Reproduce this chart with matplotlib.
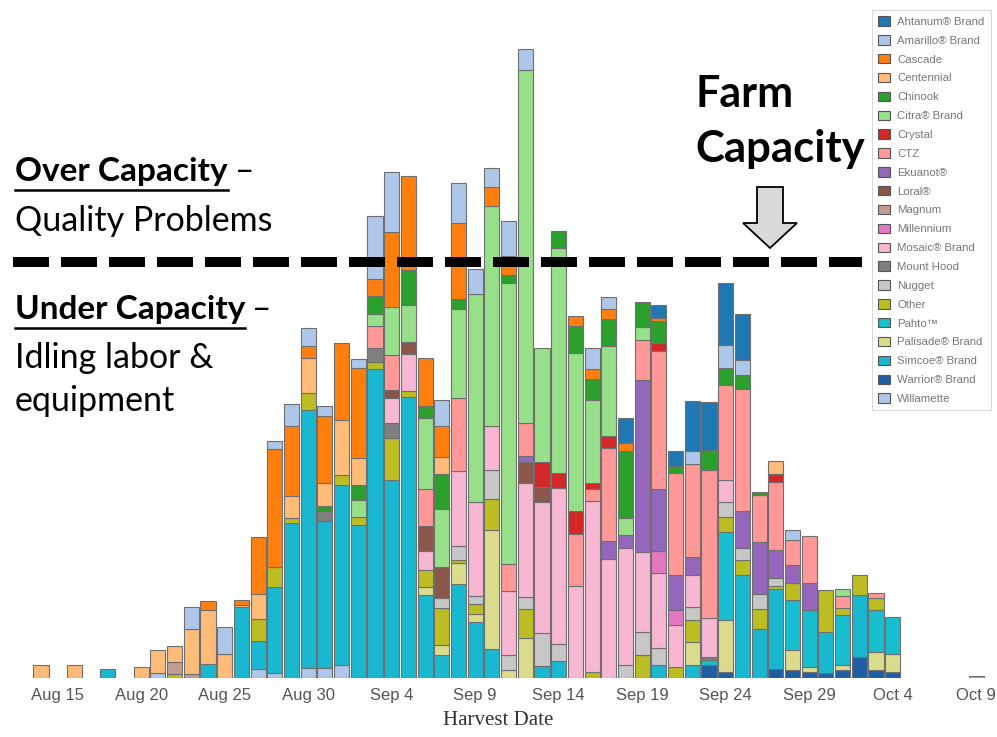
import matplotlib
matplotlib.use("Agg")
import matplotlib.pyplot as plt
from matplotlib.patches import Patch, FancyArrow
import numpy as np
import pandas as pd

# harvest days that have a bar
dates = ["Aug 14", "Aug 16", "Aug 18", "Aug 20", "Aug 21", "Aug 22", "Aug 23", "Aug 24", "Aug 25", "Aug 26",
         "Aug 27", "Aug 28", "Aug 29", "Aug 30", "Aug 31", "Sep 1", "Sep 2", "Sep 3", "Sep 4", "Sep 5",
         "Sep 6", "Sep 7", "Sep 8", "Sep 9", "Sep 10", "Sep 11", "Sep 12", "Sep 13", "Sep 14", "Sep 15",
         "Sep 16", "Sep 17", "Sep 18", "Sep 19", "Sep 20", "Sep 21", "Sep 22", "Sep 23", "Sep 24", "Sep 25",
         "Sep 26", "Sep 27", "Sep 28", "Sep 29", "Sep 30", "Oct 1", "Oct 2", "Oct 3", "Oct 4", "Oct 9"]

# volume per variety (bottom of stack first)
willamette = [0, 0, 0, 0, 5, 0, 0, 0, 0, 0,   9, 5, 0, 10, 10, 13, 0, 0, 0, 0,
              0, 0, 0, 0, 0, 0, 0, 0, 0, 0,   0, 0, 0, 0, 0, 0, 0, 0, 0, 0,
              0, 0, 0, 0, 0, 0, 0, 0, 0, 0]
warrior = [0, 0, 0, 0, 0, 0, 0, 0, 0, 0,   0, 0, 0, 0, 0, 0, 0, 0, 0, 0,
           0, 0, 0, 0, 0, 0, 0, 0, 0, 0,   0, 0, 0, 0, 0, 0, 0, 13, 6, 0,
           0, 9, 8, 6, 5, 8, 21, 8, 6, 0]
simcoe = [0, 0, 9, 0, 0, 0, 0, 14, 0, 71,   28, 86, 155, 258, 147, 180, 153, 309, 198, 281,
          83, 23, 94, 56, 29, 0, 0, 12, 17, 0,   0, 0, 0, 0, 13, 0, 13, 0, 0, 103,
          49, 80, 0, 0, 41, 0, 62, 0, 0, 0]
palisade = [0, 0, 0, 0, 0, 0, 0, 0, 0, 0,   0, 0, 0, 0, 0, 0, 0, 0, 0, 0,
            8, 10, 21, 8, 119, 8, 40, 0, 0, 0,   0, 0, 0, 0, 0, 0, 23, 0, 52, 0,
            0, 0, 20, 5, 0, 5, 0, 18, 18, 0]
pahto = [0, 0, 0, 0, 0, 0, 0, 0, 0, 0,   0, 0, 0, 0, 0, 0, 0, 0, 0, 0,
         0, 0, 0, 0, 0, 0, 0, 0, 0, 0,   0, 0, 0, 0, 0, 0, 0, 5, 88, 0,
         0, 0, 50, 57, 0, 50, 0, 42, 37, 0]
other = [0, 0, 0, 0, 0, 4, 0, 0, 0, 0,   22, 20, 5, 17, 0, 10, 8, 7, 42, 6,
         17, 37, 3, 10, 31, 0, 29, 0, 0, 0,   6, 0, 0, 23, 0, 11, 22, 0, 15, 15,
         20, 3, 17, 0, 42, 7, 20, 12, 0, 0]
nugget = [0, 0, 0, 0, 0, 0, 0, 0, 0, 0,   0, 0, 0, 0, 0, 0, 0, 0, 0, 0,
          0, 10, 14, 8, 29, 15, 12, 33, 17, 0,   0, 0, 13, 23, 17, 0, 13, 0, 15, 12,
          15, 8, 0, 0, 0, 0, 0, 0, 0, 0]
mount_hood = [0, 0, 0, 0, 0, 0, 0, 0, 0, 0,   0, 0, 0, 0, 10, 0, 0, 14, 15, 0,
              0, 0, 0, 0, 0, 0, 0, 0, 0, 0,   0, 0, 0, 0, 0, 0, 0, 3, 0, 0,
              0, 0, 0, 0, 0, 0, 0, 0, 0, 0]
mosaic = [0, 0, 0, 0, 0, 0, 0, 0, 0, 0,   0, 0, 0, 0, 0, 0, 0, 0, 25, 37,
          19, 0, 75, 94, 44, 64, 114, 131, 156, 92,   171, 119, 117, 80, 75, 42, 32, 39, 22, 0,
          0, 0, 0, 0, 0, 0, 0, 0, 0, 0]
millennium = [0, 0, 0, 0, 0, 0, 0, 0, 0, 0,   0, 0, 0, 0, 0, 0, 0, 0, 0, 0,
              0, 0, 0, 0, 0, 0, 0, 0, 0, 0,   0, 0, 0, 0, 22, 15, 0, 0, 0, 0,
              0, 0, 0, 0, 0, 0, 0, 0, 0, 0]
magnum = [0, 0, 0, 0, 0, 12, 4, 0, 0, 0,   0, 0, 0, 0, 0, 0, 0, 0, 0, 0,
          0, 0, 0, 0, 0, 0, 0, 0, 0, 0,   0, 0, 0, 0, 0, 0, 0, 0, 0, 0,
          0, 0, 0, 0, 0, 0, 0, 0, 0, 2]
loral = [0, 0, 0, 0, 0, 0, 0, 0, 0, 0,   0, 0, 0, 0, 0, 0, 0, 0, 8, 12,
         25, 31, 0, 0, 0, 0, 21, 15, 0, 0,   0, 0, 0, 0, 0, 0, 0, 0, 0, 0,
         0, 0, 0, 0, 0, 0, 0, 0, 0, 0]
ekuanot = [0, 0, 0, 0, 0, 0, 0, 0, 0, 0,   0, 0, 0, 0, 0, 0, 0, 0, 0, 0,
           0, 0, 0, 0, 0, 0, 6, 0, 0, 0,   0, 18, 13, 172, 62, 35, 18, 0, 0, 37,
           52, 28, 18, 27, 0, 0, 0, 0, 0, 0]
ctz = [0, 0, 0, 0, 0, 0, 0, 0, 0, 0,   0, 0, 0, 0, 0, 0, 0, 22, 35, 0,
       37, 0, 73, 0, 0, 27, 33, 0, 0, 52,   12, 93, 0, 40, 138, 102, 93, 148, 95, 122,
       47, 68, 25, 47, 0, 12, 0, 5, 0, 0]
crystal = [0, 0, 0, 0, 0, 0, 0, 0, 0, 0,   0, 0, 0, 0, 0, 0, 0, 0, 0, 0,
           0, 0, 0, 0, 0, 0, 0, 25, 15, 23,   6, 12, 0, 0, 8, 0, 0, 0, 0, 0,
           0, 8, 0, 0, 0, 0, 0, 0, 0, 0]
citra = [0, 0, 0, 0, 0, 0, 0, 0, 0, 0,   0, 0, 0, 0, 0, 0, 17, 12, 48, 37,
         71, 58, 89, 208, 220, 281, 353, 114, 225, 158,   83, 90, 17, 13, 0, 0, 0, 0, 0, 0,
         0, 0, 0, 0, 0, 7, 0, 0, 0, 0]
chinook = [0, 0, 0, 0, 0, 0, 0, 0, 0, 0,   0, 0, 0, 0, 5, 0, 15, 18, 0, 35,
           12, 35, 10, 0, 0, 8, 0, 0, 17, 27,   21, 27, 67, 25, 22, 7, 0, 20, 17, 14,
           3, 0, 0, 0, 0, 0, 0, 0, 0, 0]
centennial = [13, 13, 0, 11, 23, 16, 45, 54, 24, 2,   25, 0, 22, 35, 23, 55, 27, 0, 0, 0,
              0, 17, 0, 0, 0, 0, 0, 0, 0, 0,   0, 0, 0, 0, 0, 0, 0, 0, 0, 0,
              0, 13, 0, 0, 0, 0, 0, 0, 0, 0]
cascade = [0, 0, 0, 0, 0, 0, 0, 9, 0, 5,   57, 118, 70, 12, 67, 77, 90, 17, 75, 94,
           48, 31, 76, 0, 19, 19, 0, 0, 0, 10,   10, 10, 8, 0, 3, 0, 0, 0, 0, 0,
           0, 0, 0, 0, 0, 0, 0, 0, 0, 0]
amarillo = [0, 0, 0, 0, 0, 0, 22, 0, 27, 0,   0, 8, 22, 18, 10, 0, 9, 63, 60, 0,
            0, 26, 40, 25, 19, 35, 21, 0, 0, 0,   21, 12, 0, 0, 0, 0, 13, 0, 23, 15,
            0, 0, 10, 0, 0, 0, 0, 0, 0, 0]
ahtanum = [0, 0, 0, 0, 0, 0, 0, 0, 0, 0,   0, 0, 0, 0, 0, 0, 0, 0, 0, 0,
           0, 0, 0, 0, 0, 0, 0, 0, 0, 0,   0, 0, 25, 0, 13, 15, 50, 48, 62, 46,
           0, 0, 0, 0, 0, 0, 0, 0, 0, 0]

capacity = 416
tick_labels = ["Aug 15", "Aug 20", "Aug 25", "Aug 30", "Sep 4", "Sep 9", "Sep 14",
               "Sep 19", "Sep 24", "Sep 29", "Oct 4", "Oct 9"]

# stack order, bottom -> top
stack = [
    ("Willamette", willamette, "#aec7e8"),
    ("Warrior® Brand", warrior, "#1f5fa6"),
    ("Simcoe® Brand", simcoe, "#19b7d0"),
    ("Palisade® Brand", palisade, "#dbdb8d"),
    ("Pahto™", pahto, "#17becf"),
    ("Other", other, "#bcbd22"),
    ("Nugget", nugget, "#c7c7c7"),
    ("Mount Hood", mount_hood, "#7f7f7f"),
    ("Mosaic® Brand", mosaic, "#f7b6d2"),
    ("Millennium", millennium, "#e377c2"),
    ("Magnum", magnum, "#c49c94"),
    ("Loral®", loral, "#8c564b"),
    ("Ekuanot®", ekuanot, "#9467bd"),
    ("CTZ", ctz, "#ff9896"),
    ("Crystal", crystal, "#d62728"),
    ("Citra® Brand", citra, "#98df8a"),
    ("Chinook", chinook, "#2ca02c"),
    ("Centennial", centennial, "#ffbb78"),
    ("Cascade", cascade, "#ff7f0e"),
    ("Amarillo® Brand", amarillo, "#aec7e8"),
    ("Ahtanum® Brand", ahtanum, "#1f77b4"),
]

W, H = 997, 737
day0 = pd.Timestamp("2019-08-14")
x = np.array([(pd.Timestamp(d + " 2019") - day0).days for d in dates])
tick_x = [(pd.Timestamp(t + " 2019") - day0).days for t in tick_labels]

fig = plt.figure(figsize=(W / 100, H / 100), dpi=100)
ax = fig.add_axes([0, 59 / H, 1, 678 / H])
ppd = 16.7  # pixels per day
ax.set_xlim(-41 / ppd, (W - 41) / ppd)
ax.set_ylim(0, 678)

bottom = np.zeros(len(x))
for name, vals, col in stack:
    v = np.array(vals, dtype=float)
    m = v > 0
    ax.bar(x[m], v[m], bottom=bottom[m], width=0.9, color=col,
           edgecolor="#6f6f6f", linewidth=0.8)
    bottom += v

for s in ax.spines.values():
    s.set_visible(False)
ax.set_yticks([])
ax.set_xticks(tick_x)
ax.set_xticklabels(tick_labels, fontsize=12, color="#555555", family="Liberation Sans")
ax.tick_params(axis="x", length=0, pad=7)
ax.set_xlabel("Harvest Date", fontsize=15, color="#333333",
              family="Liberation Serif", labelpad=6)

# capacity line
ax.plot([(13 - 41) / ppd, (862 - 41) / ppd], [capacity, capacity],
        color="black", lw=7.2, dashes=(3.6, 1.2),
        solid_capstyle="butt", dash_capstyle="butt")

# arrow to the line
ax.add_patch(FancyArrow((770 - 41) / ppd, 678 - 187, 0, -(248 - 187),
                        width=26 / ppd, head_width=54 / ppd, head_length=25,
                        length_includes_head=True, facecolor="#d9d9d9",
                        edgecolor="black", linewidth=1.3))

# legend
handles = [Patch(facecolor=c, edgecolor="#555555", linewidth=0.8, label=n)
           for n, v, c in reversed(stack)]
leg = ax.legend(handles=handles, loc="upper left",
                bbox_to_anchor=(872 / W, 1 - 10 / H), bbox_transform=fig.transFigure,
                prop={"family": "Liberation Sans", "size": 8.2},
                frameon=True, fancybox=False, borderaxespad=0,
                handlelength=1.05, handleheight=0.9, handletextpad=0.6,
                labelspacing=0.72, borderpad=0.55)
leg.get_frame().set_edgecolor("#d0d0d0")
leg.get_frame().set_linewidth(0.8)
for t in leg.get_texts():
    t.set_color("#777777")

# annotations
font = "Lato"
renderer = fig.canvas.get_renderer()


def px(xp, yp):
    return xp / W, 1 - yp / H


def head(xp, yp, bold_txt, rest, size):
    t = fig.text(*px(xp, yp), bold_txt, fontsize=size, fontweight="bold",
                 family=font, va="baseline")
    bb = t.get_window_extent(renderer)
    fig.add_artist(plt.Line2D([bb.x0 / W, bb.x1 / W],
                              [(H - yp - 9) / H, (H - yp - 9) / H],
                              color="black", lw=1.8))
    fig.text((bb.x1 + 7) / W, 1 - yp / H, rest, fontsize=size, family=font,
             va="baseline")


head(15, 181, "Over Capacity", "–", 24)
fig.text(*px(15, 231), "Quality Problems", fontsize=24.5, family=font, va="baseline")
head(15, 319, "Under Capacity", "–", 24)
fig.text(*px(15, 368), "Idling labor &", fontsize=24.5, family=font, va="baseline")
fig.text(*px(15, 411), "equipment", fontsize=24.5, family=font, va="baseline")

fig.text(*px(695, 107), "Farm", fontsize=31, fontweight="bold", family=font, va="baseline")
fig.text(*px(695, 162), "Capacity", fontsize=31.5, fontweight="bold", family=font, va="baseline")

fig.savefig("out.png", dpi=100)
